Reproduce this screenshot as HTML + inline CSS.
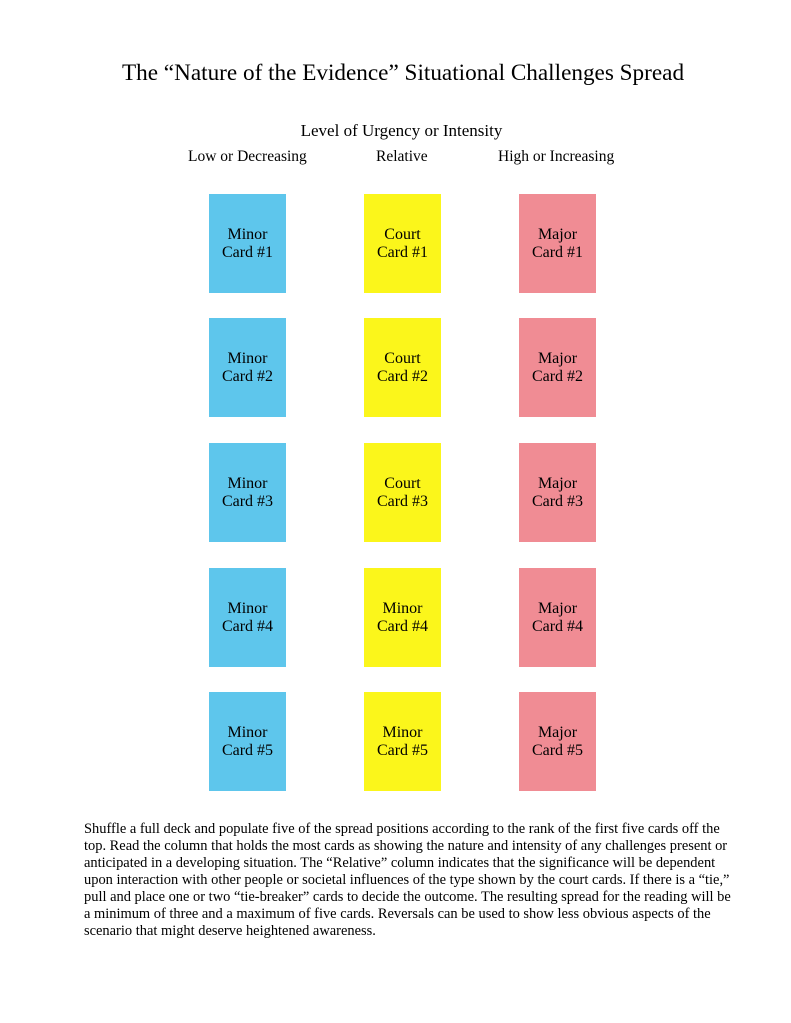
<!DOCTYPE html>
<html><head><style>
body{margin:0;width:791px;height:1023px;background:#fff;position:relative;font-family:"Liberation Serif",serif;color:#000;overflow:hidden}
.a{position:absolute}
.c{position:absolute;width:77px;height:99px;display:flex;align-items:center;justify-content:center;text-align:center;font-size:16px;line-height:18px}
.b{background:#5ec6ec}.y{background:#fbf61b}.r{background:#f08c94}
</style></head><body>
<div class="a" style="left:0;width:806px;top:60px;text-align:center;font-size:23.2px">The “Nature of the Evidence” Situational Challenges Spread</div>
<div class="a" style="left:0;width:803px;top:121px;text-align:center;font-size:17px">Level of Urgency or Intensity</div>
<div class="a" style="left:188px;top:148px;font-size:15.5px">Low or Decreasing</div>
<div class="a" style="left:376px;top:148px;font-size:15.5px">Relative</div>
<div class="a" style="left:498px;top:148px;font-size:15.5px">High or Increasing</div>

<div class="c b" style="left:209px;top:194px">Minor<br>Card #1</div>
<div class="c y" style="left:364px;top:194px">Court<br>Card #1</div>
<div class="c r" style="left:519px;top:194px">Major<br>Card #1</div>

<div class="c b" style="left:209px;top:318px">Minor<br>Card #2</div>
<div class="c y" style="left:364px;top:318px">Court<br>Card #2</div>
<div class="c r" style="left:519px;top:318px">Major<br>Card #2</div>

<div class="c b" style="left:209px;top:443px">Minor<br>Card #3</div>
<div class="c y" style="left:364px;top:443px">Court<br>Card #3</div>
<div class="c r" style="left:519px;top:443px">Major<br>Card #3</div>

<div class="c b" style="left:209px;top:568px">Minor<br>Card #4</div>
<div class="c y" style="left:364px;top:568px">Minor<br>Card #4</div>
<div class="c r" style="left:519px;top:568px">Major<br>Card #4</div>

<div class="c b" style="left:209px;top:692px">Minor<br>Card #5</div>
<div class="c y" style="left:364px;top:692px">Minor<br>Card #5</div>
<div class="c r" style="left:519px;top:692px">Major<br>Card #5</div>

<div class="a" style="left:84px;top:821px;width:700px;font-size:14.45px;line-height:17px;white-space:nowrap">
Shuffle a full deck and populate five of the spread positions according to the rank of the first five cards off the<br>
top. Read the column that holds the most cards as showing the nature and intensity of any challenges present or<br>
anticipated in a developing situation. The “Relative” column indicates that the significance will be dependent<br>
upon interaction with other people or societal influences of the type shown by the court cards. If there is a “tie,”<br>
pull and place one or two “tie-breaker” cards to decide the outcome. The resulting spread for the reading will be<br>
a minimum of three and a maximum of five cards. Reversals can be used to show less obvious aspects of the<br>
scenario that might deserve heightened awareness.
</div>
</body></html>
